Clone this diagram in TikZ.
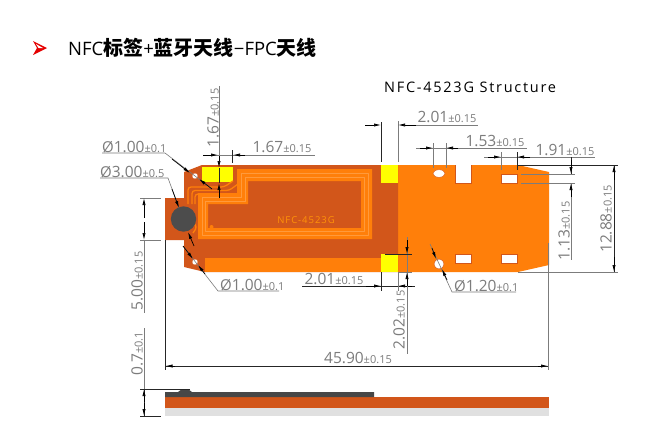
\documentclass[tikz,border=0pt]{standalone}
\usepackage{fontspec}
\setmainfont{Open Sans}
\newfontfamily\cjk{Noto Sans CJK SC}
\usetikzlibrary{arrows.meta}
\usetikzlibrary{math}
\definecolor{pcbDark}{HTML}{D2561A}
\definecolor{pcbLight}{HTML}{FF7F0A}
\definecolor{padYellow}{HTML}{FFFF00}
\definecolor{dimGray}{HTML}{7C7C7C}
\definecolor{coilLine}{HTML}{FF9A3C}
\newcommand{\numlab}[2]{{\fontsize{15.5}{16}\selectfont #1}{\fontsize{11}{12}\selectfont ±#2}}
\newcommand{\dialab}[2]{{\fontsize{15}{16}\selectfont Ø}\numlab{#1}{#2}}
\newcommand{\headcjk}[1]{{\cjk\bfseries\fontsize{20}{20}\selectfont #1}}
\tikzset{
  extline/.style={dimGray,line width=0.6pt},
  blackline/.style={black!85,line width=0.7pt},
  tipline/.style={black,line width=0.7pt,-{Latex[length=7pt,width=3.2pt]}},
  dimtext/.style={dimGray,inner sep=0pt},
  hole/.style={fill=white,draw=pcbDark,line width=0.4pt},
  coil/.style={coilLine,line width=0.5pt,line join=round},
  trace/.style={pcbLight,line width=1.3pt,rounded corners=3pt},
}
\begin{document}
\begin{tikzpicture}[x=1pt,y=-1pt]
  \tikzmath{
    \yT = 165;
    \yB = 272;
    \xA = 381;
    \xC = 398;
  }
  \useasboundingbox (0,0) rectangle (669,439);
  \fill[white] (0,0) rectangle (669,439);

  % heading
  \fill[red!90!black] (33,41) -- (47,48) -- (33,55) -- (37,48) -- cycle;
  \fill[white] (36,44) -- (43,48) -- (38.5,48) -- cycle;
  \node[anchor=west,inner sep=0pt,font=\fontsize{18.5}{20}\selectfont] (heading) at (68,48)
    {NFC\headcjk{标签}+\headcjk{蓝牙天线}−FPC\headcjk{天线}};
  \node[anchor=west,inner sep=0pt,font=\fontsize{14.5}{16}\selectfont] (structure) at (384,87)
    {\addfontfeature{LetterSpace=12}NFC-4523G Structure};

  % board, plan view
  \fill[pcbLight] (\xC,\yT) -- (518,\yT) -- (549,172) -- (549,265) -- (518,\yB) -- (\xC,\yB) -- cycle;
  \fill[pcbDark] (184,172) -- (202,\yT) -- (\xC,\yT) -- (\xC,\yB) -- (205,\yB) -- (184,267)
    -- (184,240) -- (165,240) -- (165,198) -- (184,198) -- cycle;
  \fill[pcbLight] (205,258) rectangle (\xA,\yB);
  \fill[padYellow] (202,167) rectangle (233,182);
  \fill[padYellow] (\xA,\yT) rectangle (\xC,183);
  \fill[padYellow] (\xA,254) rectangle (\xC,\yB);

  % coil
  \fill[pcbLight,even odd rule] (237,169) -- (372,169) -- (372,239) -- (198,239) -- (198,193) -- (237,193) -- cycle
    (248,181) -- (361,181) -- (361,228) -- (208,228) -- (208,204) -- (248,204) -- cycle;
  \draw[coil] (241,173) -- (368,173) -- (368,235) -- (202,235) -- (202,197) -- (241,197) -- cycle;
  \draw[coil] (245,177) -- (364,177) -- (364,231) -- (205,231) -- (205,201) -- (245,201) -- cycle;
  \draw[trace] (188,204) -- (188,187) -- (224,187) -- (233,181);
  \draw[trace] (192,204) -- (192,190.5) -- (229,190.5) -- (238,184);
  \draw[trace] (195,204) -- (195,194) -- (237,194);
  \draw[trace] (193,222) -- (197,227) -- (193,233);
  \fill[pcbLight] (211.5,227) circle (2);
  \node[inner sep=0pt,text=pcbLight!85!yellow,font=\fontsize{9.5}{10}\selectfont] (partname) at (306,220)
    {\addfontfeature{LetterSpace=10}NFC-4523G};

  % holes and slots
  \fill[white] (455,\yT-1) rectangle (471,183);
  \draw[pcbDark,line width=0.4pt] (455,\yT) -- (455,183) -- (471,183) -- (471,\yT);
  \filldraw[hole] (501,174) rectangle (517,183);
  \filldraw[hole] (455,254) rectangle (471,263);
  \filldraw[hole] (501,254) rectangle (517,263);
  \filldraw[hole] (439,173.5) ellipse [x radius=6, y radius=3.8];
  \filldraw[hole] (439,264) circle (5);
  \filldraw[hole] (195,176) circle (3);
  \filldraw[hole] (195,262) circle (3);
  \fill[black!70] (183.5,219) circle (12.7);

  % 1.67 on the left pad
  \draw[extline] (219,86) -- (219,158);
  \draw[extline] (203,155) -- (315,155);
  \draw[tipline] (203,155) -- (218,155);
  \draw[tipline] (245,155) -- (233,155);
  \draw[blackline] (232,150) -- (232,163);
  \draw[tipline] (219,156) -- (219,\yT+3);
  \draw[tipline] (219,198) -- (219,183);
  \draw[blackline] (219,168) -- (219,183);
  \node[dimtext,rotate=90] (padHeight) at (213,118) {\numlab{1.67}{0.15}};
  \node[dimtext] (padWidth) at (282,147) {\numlab{1.67}{0.15}};

  % diameter leaders, left end
  \draw[extline] (102,153) -- (165,153) -- (212,189);
  \draw[tipline] (172,159) -- (190,173);
  \draw[tipline] (212,189) -- (199,179);
  \node[dimtext,anchor=south west] (holeTop) at (102,153) {\dialab{1.00}{0.1}};
  \draw[extline] (100,178) -- (168,178) -- (179,208);
  \draw[tipline] (172,189) -- (179,208);
  \draw[tipline] (194,246) -- (188,232);
  \node[dimtext,anchor=south west] (coreHole) at (100,178) {\dialab{3.00}{0.5}};
  \draw[extline] (279,291) -- (218,291) -- (183,246);
  \draw[tipline] (183,246) -- (193,259);
  \draw[tipline] (205,274) -- (198,265);
  \node[dimtext,anchor=south west] (holeBottom) at (220,291) {\dialab{1.00}{0.1}};

  % 5.00 at the tab, 45.90 overall
  \draw[extline] (140,198) -- (161,198);
  \draw[extline] (140,240) -- (161,240);
  \draw[extline] (144,240) -- (144,313);
  \draw[tipline] (144,218) -- (144,198);
  \draw[tipline] (144,222) -- (144,240);
  \node[dimtext,rotate=90] (tabLength) at (137,281) {\numlab{5.00}{0.15}};
  \draw[blackline] (165.5,240) -- (165.5,370);
  \draw[extline] (548,243) -- (548,370);
  \draw[blackline] (165.5,366) -- (548,366);
  \draw[tipline] (175,366) -- (165.5,366);
  \draw[tipline] (538,366) -- (548,366);
  \node[dimtext] (totalLength) at (358,358) {\numlab{45.90}{0.15}};

  % top dimensions, right part
  \draw[extline] (416,125) -- (478,125);
  \draw[blackline] (\xA,122) -- (\xA,162);
  \draw[extline] (\xC,121) -- (\xC,162);
  \draw[tipline] (365,125) -- (\xA,125);
  \draw[tipline] (416,125) -- (\xC,125);
  \node[dimtext] (padGapTop) at (447,117) {\numlab{2.01}{0.15}};
  \draw[extline] (416,148) -- (527,148);
  \draw[extline] (433,143) -- (433,168);
  \draw[extline] (446,143) -- (446,168);
  \draw[tipline] (420,148) -- (433,148);
  \draw[tipline] (458,148) -- (446,148);
  \node[dimtext] (ovalWidth) at (495,141) {\numlab{1.53}{0.15}};
  \draw[extline] (484,157) -- (595,157);
  \draw[extline] (501,152) -- (501,170);
  \draw[blackline] (517,152) -- (517,170);
  \draw[tipline] (488,157) -- (501,157);
  \draw[tipline] (530,157) -- (517,157);
  \node[dimtext] (slotWidth) at (565,150) {\numlab{1.91}{0.15}};

  % right side heights
  \draw[blackline] (518,\yT) -- (618,\yT);
  \draw[extline] (518,\yB) -- (618,\yB);
  \draw[extline] (521,174) -- (575,174);
  \draw[extline] (521,183) -- (575,183);
  \draw[blackline] (571,157) -- (571,174);
  \draw[extline] (571,183) -- (571,260);
  \draw[tipline] (571,160) -- (571,174);
  \draw[tipline] (571,197) -- (571,183);
  \node[dimtext,rotate=90] (slotHeight) at (564,231) {\numlab{1.13}{0.15}};
  \draw[blackline] (614,\yT) -- (614,\yB);
  \draw[tipline] (614,180) -- (614,\yT);
  \draw[tipline] (614,257) -- (614,\yB);
  \node[dimtext,rotate=90] (boardHeight) at (606,219) {\numlab{12.88}{0.15}};

  % 1.20 leader
  \draw[extline] (516,292) -- (452,292) -- (430,244);
  \draw[tipline] (432,248) -- (436,259);
  \draw[tipline] (447,280) -- (442,269);
  \node[dimtext,anchor=south west] (holeRight) at (454,292) {\dialab{1.20}{0.1}};

  % bottom dimensions
  \draw[blackline] (302,286) -- (415,286);
  \draw[blackline] (\xA,\yB) -- (\xA,291);
  \draw[extline] (\xC,\yB) -- (\xC,291);
  \draw[tipline] (366,286) -- (\xA,286);
  \draw[tipline] (412,286) -- (\xC,286);
  \node[dimtext] (padGapBottom) at (334,279) {\numlab{2.01}{0.15}};
  \draw[extline] (407,237) -- (407,354);
  \draw[blackline] (385,254) -- (412,254);
  \draw[extline] (\xC,\yB) -- (412,\yB);
  \draw[tipline] (407,240) -- (407,254);
  \draw[tipline] (407,286) -- (407,\yB);
  \node[dimtext,rotate=90] (padHeightB) at (399,320) {\numlab{2.02}{0.15}};

  % section view
  \fill[black!12] (165,408) rectangle (549,416);
  \fill[pcbDark] (165,397) rectangle (549,407.5);
  \fill[black!72] (165,397) -- (165,392) -- (178,392) -- (182,389) -- (188,389) -- (192,392) -- (374,392) -- (374,397) -- cycle;
  \draw[extline] (144,328) -- (144,389);
  \draw[blackline] (140,389) -- (190,389);
  \draw[blackline] (140,416) -- (161,416);
  \draw[blackline] (144,389) -- (144,416);
  \draw[tipline] (144,402) -- (144,389);
  \draw[tipline] (144,403) -- (144,416);
  \node[dimtext,rotate=90] (thickness) at (137,354) {\numlab{0.7}{0.1}};
\end{tikzpicture}
\end{document}
